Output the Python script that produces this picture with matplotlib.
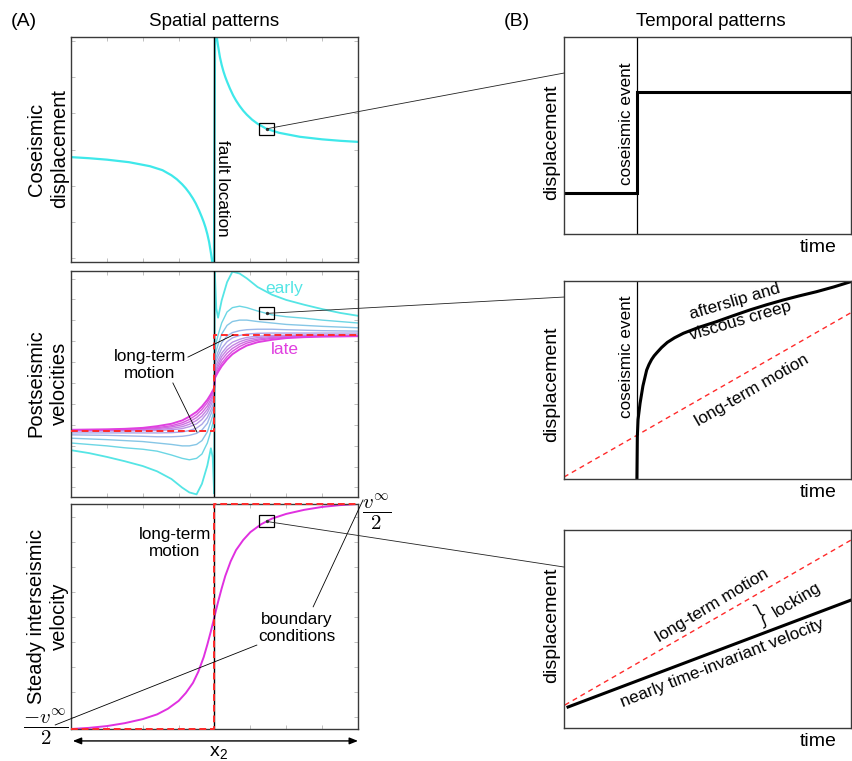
import numpy as np
import matplotlib
matplotlib.use("Agg")
import matplotlib.pyplot as plt
from matplotlib.patches import Rectangle, ConnectionPatch
from matplotlib.ticker import MultipleLocator

plt.rcParams['font.family'] = ['Liberation Sans', 'DejaVu Sans']
plt.rcParams['mathtext.fontset'] = 'cm'

# ---------------------------------------------------------------- data
# Coseismic displacement across the fault (distance in tick units)
cos_x = [-4.0, -3.5, -3.0, -2.38, -1.8, -1.45, -1.2, -1.05, -0.9, -0.8, -0.7, -0.6, -0.52, -0.43, -0.35, -0.3,
         -0.25, -0.2, -0.15, -0.1, -0.07, -0.04, -0.03, -0.02,
         0.02, 0.03, 0.04, 0.07, 0.1, 0.15, 0.2, 0.25, 0.3, 0.35, 0.43, 0.52, 0.6, 0.7, 0.8, 0.9, 1.05, 1.2,
         1.45, 1.8, 2.38, 3.0, 3.5, 4.0]
cos_u = [-0.21, -0.24, -0.28, -0.35, -0.46, -0.57, -0.71, -0.82, -0.96, -1.07, -1.2, -1.35, -1.49, -1.68, -1.87, -2.0,
         -2.15, -2.33, -2.55, -2.85, -3.05, -3.3, -3.5, -4.0,
         4.0, 3.5, 3.3, 3.05, 2.85, 2.55, 2.33, 2.15, 2.0, 1.87, 1.68, 1.49, 1.35, 1.2, 1.07, 0.96, 0.82, 0.71,
         0.57, 0.46, 0.35, 0.28, 0.24, 0.21]

# Postseismic velocity profiles, early -> late
ps_x = [-4.0, -3.5, -3.0, -2.5, -2.0, -1.6, -1.2, -0.9, -0.7, -0.5, -0.35, -0.2, -0.1, -0.05, -0.01,
        0.01, 0.05, 0.1, 0.2, 0.35, 0.5, 0.7, 0.9, 1.2, 1.6, 2.0, 2.5, 3.0, 3.5, 4.0]
ps_v0 = [-1.40, -1.46, -1.54, -1.63, -1.73, -1.84, -2.0, -2.18, -2.28, -2.32, -2.1, -1.72, -1.36, -1.55, -2.3,
         2.3, 1.55, 1.36, 1.72, 2.1, 2.32, 2.28, 2.18, 2.0, 1.84, 1.73, 1.63, 1.54, 1.46, 1.40]
ps_v1 = [-1.25, -1.28, -1.31, -1.35, -1.38, -1.42, -1.5, -1.57, -1.6, -1.57, -1.48, -1.25, -1.0, -0.85, -0.7,
         0.7, 0.85, 1.0, 1.25, 1.48, 1.57, 1.6, 1.57, 1.5, 1.42, 1.38, 1.35, 1.31, 1.28, 1.25]
ps_v2 = [-1.15, -1.165, -1.18, -1.2, -1.22, -1.25, -1.28, -1.31, -1.31, -1.28, -1.2, -1.02, -0.8, -0.68, -0.55,
         0.55, 0.68, 0.8, 1.02, 1.2, 1.28, 1.31, 1.31, 1.28, 1.25, 1.22, 1.2, 1.18, 1.165, 1.15]
ps_v3 = [-1.08, -1.085, -1.09, -1.1, -1.11, -1.12, -1.12, -1.11, -1.09, -1.05, -0.98, -0.84, -0.65, -0.55, -0.45,
         0.45, 0.55, 0.65, 0.84, 0.98, 1.05, 1.09, 1.11, 1.12, 1.12, 1.11, 1.1, 1.09, 1.085, 1.08]
ps_v4 = [-1.04, -1.04, -1.04, -1.04, -1.04, -1.04, -1.035, -1.02, -0.99, -0.94, -0.86, -0.72, -0.56, -0.47, -0.38,
         0.38, 0.47, 0.56, 0.72, 0.86, 0.94, 0.99, 1.02, 1.035, 1.04, 1.04, 1.04, 1.04, 1.04, 1.04]
ps_v5 = [-1.0, -1.0, -1.0, -1.0, -0.995, -0.99, -0.975, -0.95, -0.91, -0.85, -0.76, -0.62, -0.47, -0.38, -0.3,
         0.3, 0.38, 0.47, 0.62, 0.76, 0.85, 0.91, 0.95, 0.975, 0.99, 0.995, 1.0, 1.0, 1.0, 1.0]
ps_v6 = [-0.99, -0.99, -0.99, -0.985, -0.98, -0.97, -0.945, -0.91, -0.86, -0.78, -0.69, -0.55, -0.4, -0.31, -0.24,
         0.24, 0.31, 0.4, 0.55, 0.69, 0.78, 0.86, 0.91, 0.945, 0.97, 0.98, 0.985, 0.99, 0.99, 0.99]
ps_v7 = [-0.985, -0.985, -0.98, -0.975, -0.965, -0.95, -0.915, -0.87, -0.81, -0.72, -0.62, -0.48, -0.34, -0.26, -0.19,
         0.19, 0.26, 0.34, 0.48, 0.62, 0.72, 0.81, 0.87, 0.915, 0.95, 0.965, 0.975, 0.98, 0.985, 0.985]
ps_v8 = [-0.98, -0.98, -0.975, -0.965, -0.95, -0.93, -0.89, -0.83, -0.76, -0.66, -0.55, -0.41, -0.28, -0.21, -0.14,
         0.14, 0.21, 0.28, 0.41, 0.55, 0.66, 0.76, 0.83, 0.89, 0.93, 0.95, 0.965, 0.975, 0.98, 0.98]
ps_v9 = [-0.975, -0.97, -0.965, -0.955, -0.935, -0.9, -0.85, -0.78, -0.7, -0.6, -0.49, -0.35, -0.23, -0.16, -0.1,
         0.1, 0.16, 0.23, 0.35, 0.49, 0.6, 0.7, 0.78, 0.85, 0.9, 0.935, 0.955, 0.965, 0.97, 0.975]
ps_profiles = [ps_v0, ps_v1, ps_v2, ps_v3, ps_v4, ps_v5, ps_v6, ps_v7, ps_v8, ps_v9]
ps_colors = ['#55e5e5', '#6cd6e4', '#86c6e6', '#9cb6e8', '#aca6e8', '#b896e6', '#c484e4',
             '#cf6ee2', '#d858e0', '#e040e0']

# Long-term (block) motion, postseismic panel
lt_x = [-4.0, 0.0, 0.0, 4.0]
lt_v = [-1.0, -1.0, 1.0, 1.0]

# Steady interseismic velocity (fraction of v_inf)
is_x = [-4.0, -3.5, -3.0, -2.5, -2.0, -1.6, -1.3, -1.0, -0.8, -0.6, -0.45, -0.3, -0.2, -0.1, 0.0,
        0.1, 0.2, 0.3, 0.45, 0.6, 0.8, 1.0, 1.3, 1.6, 2.0, 2.5, 3.0, 3.5, 4.0]
is_v = [-0.5, -0.495, -0.487, -0.474, -0.456, -0.435, -0.41, -0.375, -0.34, -0.295, -0.245, -0.18, -0.125, -0.065, 0.0,
        0.065, 0.125, 0.18, 0.245, 0.295, 0.34, 0.375, 0.41, 0.435, 0.456, 0.474, 0.487, 0.495, 0.5]
bc_x = [-4.0, 0.0, 0.0, 4.0]
bc_v = [-0.5, -0.5, 0.5, 0.5]

# Station location highlighted in each spatial panel
station_x = 1.45

# Temporal series (time and displacement normalised to the panel)
event_t = 0.254
co_t = [0.0, 0.254, 0.254, 1.0]
co_d = [0.208, 0.208, 0.721, 0.721]
post_t = [0.254, 0.2555, 0.258, 0.265, 0.275, 0.288, 0.296, 0.305, 0.314, 0.323, 0.34, 0.36, 0.385, 0.416,
          0.47, 0.532, 0.59, 0.648, 0.706, 0.764, 0.82, 0.88, 0.94, 1.0]
post_d = [0.0, 0.214, 0.3, 0.382, 0.47, 0.55, 0.578, 0.603, 0.622, 0.637, 0.664, 0.69, 0.713, 0.736,
          0.766, 0.795, 0.825, 0.854, 0.88, 0.904, 0.925, 0.946, 0.97, 0.997]
ltm_t = [0.0, 1.0]
ltm_d = [0.01, 0.84]
inter_lt_t = [0.003, 1.0]
inter_lt_d = [0.116, 0.949]
inter_t = [0.014, 1.0]
inter_d = [0.106, 0.646]

# ---------------------------------------------------------------- layout helpers
W, H = 852, 761


def frame(l, t, r, b):
    return [l / W, 1 - b / H, (r - l) / W, (b - t) / H]


def fpos(x, y):
    return x / W, 1 - y / H


fig = plt.figure(figsize=(W / 100, H / 100), dpi=100)

axA1 = fig.add_axes(frame(71, 37, 358, 262))
axA2 = fig.add_axes(frame(71, 271, 358, 497))
axA3 = fig.add_axes(frame(71, 504, 358, 729))
axB1 = fig.add_axes(frame(564, 37, 851, 234))
axB2 = fig.add_axes(frame(564, 281, 851, 479))
axB3 = fig.add_axes(frame(564, 530, 851, 728))

RED = '#ff2a2a'


def style_spatial(ax, ylim, ystep):
    ax.set_xlim(-4, 4)
    ax.set_ylim(*ylim)
    ax.xaxis.set_major_locator(MultipleLocator(1))
    ax.yaxis.set_major_locator(MultipleLocator(ystep))
    ax.tick_params(direction='in', length=3, width=0.6, color='#b5b5b5',
                   top=True, right=True, labelleft=False, labelbottom=False)
    for s in ax.spines.values():
        s.set_color('#3a3a3a')
        s.set_linewidth(1.0)


def style_temporal(ax):
    ax.set_xlim(0, 1)
    ax.set_ylim(0, 1)
    ax.set_xticks([])
    ax.set_yticks([])
    for s in ax.spines.values():
        s.set_color('#3a3a3a')
        s.set_linewidth(1.0)


def station_box(ax, xs, ys, w, h):
    y0 = np.interp(station_x, xs, ys)
    ax.add_patch(Rectangle((station_x - w / 2, y0 - h / 2), w, h, fill=False,
                           edgecolor='k', lw=0.9, zorder=6))
    ax.plot([station_x], [y0], 'o', color='#333333', ms=1.4, zorder=6)
    return station_x, y0


# ---------------------------------------------------------------- (A) spatial patterns
style_spatial(axA1, (-3.1, 3.1), 1.0)
axA1.plot(cos_x, cos_u, color='#3fe8ea', lw=1.6, zorder=2)
axA1.axvline(0, color='k', lw=1.0, zorder=3)
axA1.text(0.21, -1.06, 'fault location', rotation=-90, ha='center', va='center', fontsize=12.3)
pA1 = station_box(axA1, cos_x, cos_u, 0.42, 0.345)

style_spatial(axA2, (-2.375, 2.333), 0.435)
for i, (prof, col) in enumerate(zip(ps_profiles, ps_colors)):
    lw = 1.3 if i == 0 else (1.4 if i == len(ps_profiles) - 1 else 1.0)
    axA2.plot(ps_x, prof, color=col, lw=lw, zorder=2 + i * 0.01)
axA2.axvline(0, color='k', lw=1.0, zorder=3)
axA2.plot(lt_x, lt_v, color=RED, lw=1.4, dashes=(3.5, 2.0), zorder=4, clip_on=False)
axA2.text(1.95, 1.96, 'early', color='#55e5e5', ha='center', va='center', fontsize=12.5)
axA2.text(1.95, 0.69, 'late', color='#e040e0', ha='center', va='center', fontsize=12.5)
axA2.text(-1.8, 0.375, 'long-term\nmotion', ha='center', va='center', fontsize=12.3, linespacing=1.15)
axA2.plot([-0.74, 0.52], [0.54, 1.0], color='k', lw=0.6, zorder=5)
axA2.plot([-1.16, -0.49], [0.0, -1.02], color='k', lw=0.6, zorder=5)
pA2 = station_box(axA2, ps_x, ps_v1, 0.42, 0.25)

style_spatial(axA3, (-0.5, 0.5), 1.0 / 9.0)
axA3.plot(is_x, is_v, color='#e030e0', lw=1.4, zorder=2)
axA3.axvline(0, color='k', lw=1.0, zorder=3)
axA3.plot(bc_x, bc_v, color=RED, lw=1.4, dashes=(3.5, 2.0), zorder=4, clip_on=False)
axA3.text(-1.1, 0.327, 'long-term\nmotion', ha='center', va='center', fontsize=12.3, linespacing=1.15)
axA3.text(2.3, -0.05, 'boundary\nconditions', ha='center', va='center', fontsize=12.3, linespacing=1.15)
axA3.plot([2.75, 4.14], [0.043, 0.518], color='k', lw=0.6, clip_on=False, zorder=5)
axA3.plot([1.18, -4.44], [-0.127, -0.482], color='k', lw=0.6, clip_on=False, zorder=5)
pA3 = station_box(axA3, is_x, is_v, 0.42, 0.053)
axA3.annotate('', xy=(4.0, -0.553), xytext=(-3.95, -0.553), xycoords='data',
              arrowprops=dict(arrowstyle='<|-|>,head_length=0.5,head_width=0.2', color='k', lw=1.0,
                              shrinkA=0, shrinkB=0), annotation_clip=False)

# ---------------------------------------------------------------- (B) temporal patterns
style_temporal(axB1)
axB1.axvline(event_t, color='k', lw=0.9)
axB1.plot(co_t, co_d, color='k', lw=2.2, solid_joinstyle='miter')
axB1.text(event_t - 0.035, 0.558, 'coseismic event', rotation=90, ha='center', va='center', fontsize=12.3)

style_temporal(axB2)
axB2.axvline(event_t, color='k', lw=0.9)
axB2.plot(ltm_t, ltm_d, color=RED, lw=1.0, dashes=(3.6, 2.9))
axB2.plot(post_t, post_d, color='k', lw=2.2)
axB2.text(event_t - 0.035, 0.617, 'coseismic event', rotation=90, ha='center', va='center', fontsize=12.3)

for (px, py), s, rot, ls in [((738, 311), 'afterslip and\nviscous creep', 16.5, 1.4),
                             ((752, 390), 'long-term motion', 30, 1.2),
                             ((712, 605), 'long-term motion', 31, 1.2),
                             ((797, 600), 'locking', 31, 1.2),
                             ((722, 663), 'nearly time-invariant velocity', 21.5, 1.2)]:
    fig.text(*fpos(px, py), s, rotation=rot, ha='center', va='center', fontsize=12.3,
             linespacing=ls)

style_temporal(axB3)
axB3.plot(inter_lt_t, inter_lt_d, color=RED, lw=1.0, dashes=(3.6, 2.9))
axB3.plot(inter_t, inter_d, color='k', lw=2.2)
fig.text(*fpos(761, 614), '}', rotation=25, ha='center', va='center', fontsize=21,
         family=['DejaVu Sans'], fontweight='light')

for ax in (axB1, axB2, axB3):
    ax.text(0.885, -0.07, 'time', transform=ax.transAxes, ha='center', va='center', fontsize=14)

for y in (142, 384, 625):
    fig.text(*fpos(552, y), 'displacement', rotation=90, ha='center', va='center', fontsize=14)

# ---------------------------------------------------------------- connectors
for axL, pt, axR, fy in [(axA1, pA1, axB1, 0.817), (axA2, pA2, axB2, 0.919), (axA3, pA3, axB3, 0.813)]:
    con = ConnectionPatch(xyA=pt, coordsA=axL.transData, xyB=(0.0, fy), coordsB=axR.transAxes,
                          color='#222222', lw=0.6)
    fig.add_artist(con)

# ---------------------------------------------------------------- titles and labels
fig.text(*fpos(24, 22), '(A)', ha='center', va='center', fontsize=14)
fig.text(*fpos(517, 22), '(B)', ha='center', va='center', fontsize=14)
fig.text(*fpos(214, 22), 'Spatial patterns', ha='center', va='center', fontsize=13.5)
fig.text(*fpos(711, 22), 'Temporal patterns', ha='center', va='center', fontsize=13.5)

for y, s in [(149, 'Coseismic\ndisplacement'), (383, 'Postseismic\nvelocities'),
             (616, 'Steady interseismic\nvelocity')]:
    fig.text(*fpos(48, y), s, rotation=90, ha='center', va='center', fontsize=14.5, linespacing=1.3)

fig.text(*fpos(377, 512), r'$\dfrac{v^{\infty}}{2}$', ha='center', va='center', fontsize=15)
fig.text(*fpos(46, 727), r'$\dfrac{-v^{\infty}}{2}$', ha='center', va='center', fontsize=15)
fig.text(*fpos(219, 745), r'x$_\mathregular{2}$', ha='center', va='top', fontsize=14)

fig.savefig('out.png', dpi=100)
